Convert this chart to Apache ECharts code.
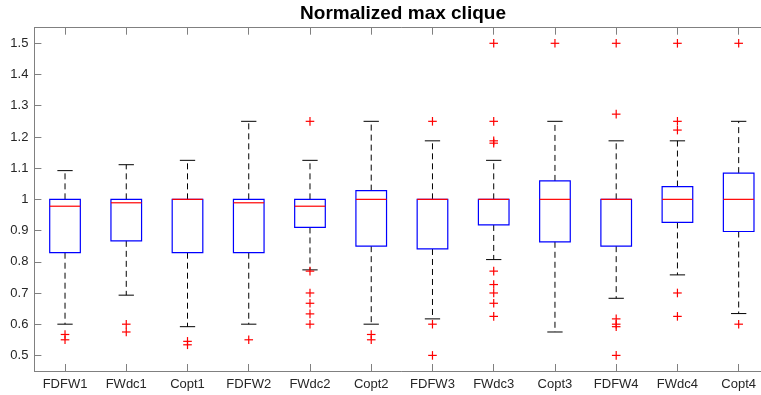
<!DOCTYPE html>
<html>
<head>
<meta charset="utf-8">
<script src="https://cdn.jsdelivr.net/npm/echarts@6/dist/echarts.min.js"></script>
<style>
html,body{margin:0;padding:0;background:#fff;overflow:hidden;}
#chart{width:806px;height:395px;}
</style>
</head>
<body>
<div id="chart"></div>
<script>
var categories = ['FDFW1','FWdc1','Copt1','FDFW2','FWdc2','Copt2','FDFW3','FWdc3','Copt3','FDFW4','FWdc4','Copt4'];
var whiskerLow  = [0.600, 0.693, 0.592, 0.600, 0.774, 0.600, 0.617, 0.807, 0.575, 0.683, 0.758, 0.634];
var q1          = [0.829, 0.867, 0.829, 0.829, 0.910, 0.850, 0.841, 0.918, 0.864, 0.850, 0.926, 0.897];
var medians     = [0.978, 0.989, 1.000, 0.989, 0.978, 1.000, 1.000, 1.000, 1.000, 1.000, 1.000, 1.000];
var q3          = [1.000, 1.000, 1.000, 1.000, 1.000, 1.028, 1.000, 1.000, 1.059, 1.000, 1.041, 1.084];
var whiskerHigh = [1.092, 1.111, 1.125, 1.250, 1.125, 1.250, 1.1875, 1.125, 1.250, 1.1875, 1.1875, 1.250];
var outliers = [
  [0.567, 0.550],
  [0.600, 0.575],
  [0.545, 0.534],
  [0.550],
  [1.250, 0.770, 0.700, 0.667, 0.633, 0.600],
  [0.567, 0.550],
  [1.250, 0.600, 0.500],
  [1.500, 1.250, 1.1875, 1.180, 0.770, 0.727, 0.700, 0.667, 0.625],
  [1.500],
  [1.500, 1.273, 0.617, 0.600, 0.592, 0.500],
  [1.500, 1.250, 1.222, 0.700, 0.625],
  [1.500, 0.600]
];
var yTicks = [0.5, 0.6, 0.7, 0.8, 0.9, 1.0, 1.1, 1.2, 1.3, 1.4, 1.5];
var yMin = 0.45, yMax = 1.55;

var boxData = categories.map(function(c, i){
  return [i, whiskerLow[i], q1[i], medians[i], q3[i], whiskerHigh[i]];
});
var outlierData = [];
outliers.forEach(function(list, i){
  list.forEach(function(v){ outlierData.push([i, v]); });
});

var chart = echarts.init(document.getElementById('chart'), null, {renderer:'canvas'});
var FONT = 'Liberation Sans, Arial, Helvetica, sans-serif';
var axisGray = '#808080';
var labelColor = '#262626';
var LW = 1.2;

chart.setOption({
  animation: false,
  backgroundColor: '#fff',
  title: {
    text: 'Normalized max clique',
    left: 'center',
    top: -1,
    textStyle: {fontFamily: FONT, fontWeight: 'bold', fontSize: 19, color: '#000'}
  },
  grid: {left: 34.4, right: 36.7, top: 27.7, bottom: 24, containLabel: false},
  xAxis: [{
    type: 'category',
    data: categories,
    position: 'bottom',
    boundaryGap: true,
    axisLine: {show: true, lineStyle: {color: axisGray, width: 1}},
    axisTick: {show: true, inside: true, alignWithLabel: true, length: 7, lineStyle: {color: axisGray}},
    axisLabel: {color: labelColor, fontFamily: FONT, fontSize: 13, margin: 7},
    splitLine: {show: false}
  }, {
    type: 'category',
    data: categories,
    position: 'top',
    boundaryGap: true,
    axisLine: {show: true, lineStyle: {color: axisGray, width: 1}},
    axisTick: {show: true, inside: true, alignWithLabel: true, length: 7, lineStyle: {color: axisGray}},
    axisLabel: {show: false},
    splitLine: {show: false}
  }],
  yAxis: [{
    type: 'value',
    min: yMin, max: yMax,
    position: 'left',
    axisLine: {show: true, lineStyle: {color: axisGray, width: 1}},
    axisTick: {show: true, inside: true, length: 7, customValues: yTicks, lineStyle: {color: axisGray}},
    axisLabel: {
      color: labelColor, fontFamily: FONT, fontSize: 13, margin: 6,
      customValues: yTicks,
      formatter: function(v){ return String(Math.round(v*10)/10); }
    },
    splitLine: {show: false}
  }, {
    type: 'value',
    min: yMin, max: yMax,
    position: 'right',
    axisLine: {show: true, lineStyle: {color: axisGray, width: 1}},
    axisTick: {show: true, inside: true, length: 7, customValues: yTicks, lineStyle: {color: axisGray}},
    axisLabel: {show: false},
    splitLine: {show: false}
  }],
  series: [{
    type: 'custom',
    xAxisIndex: 0, yAxisIndex: 0,
    data: boxData,
    encode: {x: 0, y: [1,2,3,4,5]},
    renderItem: function(params, api){
      var i = api.value(0);
      var band = api.size([1, 0])[0];
      var cx = api.coord([i, 0])[0];
      var yLo = api.coord([i, api.value(1)])[1];
      var yQ1 = api.coord([i, api.value(2)])[1];
      var yMed = api.coord([i, api.value(3)])[1];
      var yQ3 = api.coord([i, api.value(4)])[1];
      var yHi = api.coord([i, api.value(5)])[1];
      var bh = band * 0.25, ch = band * 0.125;
      var children = [];
      var dash = {stroke: '#000', lineWidth: 1, lineDash: [6, 4]};
      children.push({type:'line', shape:{x1:cx, y1:yQ3, x2:cx, y2:yHi}, style: dash});
      children.push({type:'line', shape:{x1:cx, y1:yQ1, x2:cx, y2:yLo}, style: dash});
      children.push({type:'line', shape:{x1:cx-ch, y1:yHi, x2:cx+ch, y2:yHi}, style:{stroke:'#000', lineWidth:1}});
      children.push({type:'line', shape:{x1:cx-ch, y1:yLo, x2:cx+ch, y2:yLo}, style:{stroke:'#000', lineWidth:1}});
      children.push({type:'rect', shape:{x:cx-bh, y:yQ3, width:2*bh, height:yQ1-yQ3}, style:{fill:'none', stroke:'#0000ff', lineWidth:LW}});
      children.push({type:'line', shape:{x1:cx-bh, y1:yMed, x2:cx+bh, y2:yMed}, style:{stroke:'#ff0000', lineWidth:LW}});
      return {type:'group', children: children};
    },
    z: 2
  }, {
    type: 'custom',
    xAxisIndex: 0, yAxisIndex: 0,
    data: outlierData,
    encode: {x: 0, y: 1},
    renderItem: function(params, api){
      var p = api.coord([api.value(0), api.value(1)]);
      var x = p[0], y = p[1], h = 4.3;
      return {type:'group', children:[
        {type:'line', shape:{x1:x-h, y1:y, x2:x+h, y2:y}, style:{stroke:'#ff0000', lineWidth:LW}},
        {type:'line', shape:{x1:x, y1:y-h, x2:x, y2:y+h}, style:{stroke:'#ff0000', lineWidth:LW}}
      ]};
    },
    z: 3
  }]
});
</script>
</body>
</html>
